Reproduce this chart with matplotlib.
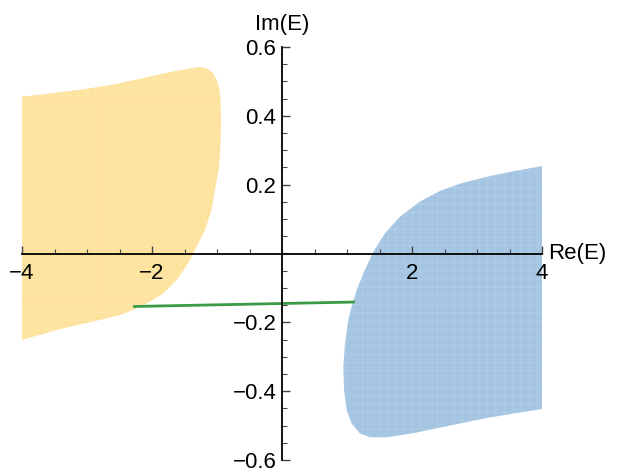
import matplotlib
matplotlib.use("Agg")
import matplotlib.pyplot as plt
from matplotlib.patches import Polygon
import numpy as np

plt.rcParams['font.family'] = ['Liberation Sans', 'DejaVu Sans']
plt.rcParams['hatch.linewidth'] = 0.3

# Boundary of the yellow (left) region: (Re, Im)
yellow_re = [-4.0, -3.569, -3.057, -2.543, -2.082, -1.723, -1.415, -1.262, -1.158, -1.057,
             -1.005, -0.965, -0.943, -0.938, -0.943, -0.97, -1.031, -1.082, -1.185, -1.312,
             -1.442, -1.620, -1.826, -2.082, -2.288, -2.492, -2.8, -3.312, -3.569, -4.0]
yellow_im = [0.456, 0.465, 0.477, 0.493, 0.512, 0.527, 0.538, 0.542, 0.538, 0.524,
             0.504, 0.480, 0.441, 0.383, 0.325, 0.249, 0.185, 0.128, 0.068, 0.020,
             -0.028, -0.077, -0.116, -0.145, -0.164, -0.179, -0.193, -0.215, -0.228, -0.251]

# Boundary of the blue (right) region: (Re, Im)
blue_re = [4.0, 3.585, 3.149, 2.738, 2.431, 2.123, 1.815, 1.585, 1.405, 1.251, 1.149, 1.072,
           1.020, 0.969, 0.943, 0.954, 0.995, 1.072, 1.2, 1.354, 1.611, 2.02, 2.431, 2.635,
           3.149, 3.662, 4.0]
blue_im = [0.254, 0.240, 0.223, 0.203, 0.182, 0.151, 0.107, 0.059, 0.005, -0.058, -0.106, -0.154,
           -0.193, -0.261, -0.329, -0.397, -0.455, -0.494, -0.523, -0.534, -0.534, -0.522, -0.506,
           -0.498, -0.478, -0.462, -0.452]

# Green segment
line_re = [-2.29, 1.12]
line_im = [-0.154, -0.141]

x_ticks = [-4, -2, 2, 4]
y_ticks = [-0.6, -0.4, -0.2, 0.2, 0.4, 0.6]

fig = plt.figure(figsize=(6.26, 4.74), dpi=100)
ax = fig.add_axes([22/626, 14/474, 520/626, 413/474])
ax.set_xlim(-4, 4)
ax.set_ylim(-0.6, 0.6)

yp = Polygon(np.column_stack([yellow_re, yellow_im]), closed=True,
             facecolor='#FEE39F', edgecolor=(1, 1, 1, 0.25), lw=0, hatch='++', zorder=1)
bp = Polygon(np.column_stack([blue_re, blue_im]), closed=True,
             facecolor='#A5C6E3', edgecolor=(1, 1, 1, 0.25), lw=0, hatch='++', zorder=1)
ax.add_patch(yp)
ax.add_patch(bp)

ax.plot(line_re, line_im, color='#3A9A45', lw=2, zorder=3, solid_capstyle='butt')

# Mathematica-style axes through origin
for s in ['top', 'right']:
    ax.spines[s].set_visible(False)
ax.spines['left'].set_position(('data', 0))
ax.spines['bottom'].set_position(('data', 0))
ax.spines['left'].set_zorder(4)
ax.spines['bottom'].set_zorder(4)
ax.spines['left'].set_linewidth(1.3)
ax.spines['bottom'].set_linewidth(1.3)

ax.set_xticks(x_ticks)
ax.set_xticklabels([f"\u2212{abs(v)}" if v < 0 else str(v) for v in x_ticks])
ax.set_xticks(np.arange(-4, 4.01, 0.5), minor=True)
ax.set_yticks(y_ticks)
ax.set_yticklabels([(f"\u2212{abs(v):.1f}" if v < 0 else f"{v:.1f}") for v in y_ticks])
ax.set_yticks(np.arange(-0.6, 0.601, 0.05), minor=True)

ax.tick_params(axis='x', which='both', direction='in', labelsize=16, pad=7)
ax.tick_params(axis='y', which='both', direction='in', labelsize=16, pad=4)
ax.tick_params(which='major', length=6, width=1.0, color='#444444')
ax.tick_params(which='minor', length=3.5, width=0.8, color='#444444')

ax.text(1.012, 0.5, "Re(E)", transform=ax.transAxes, fontsize=16, ha='left', va='center')
ax.text(0.5, 1.028, "Im(E)", transform=ax.transAxes, fontsize=16, ha='center', va='bottom')

fig.savefig("out.png", dpi=100)
